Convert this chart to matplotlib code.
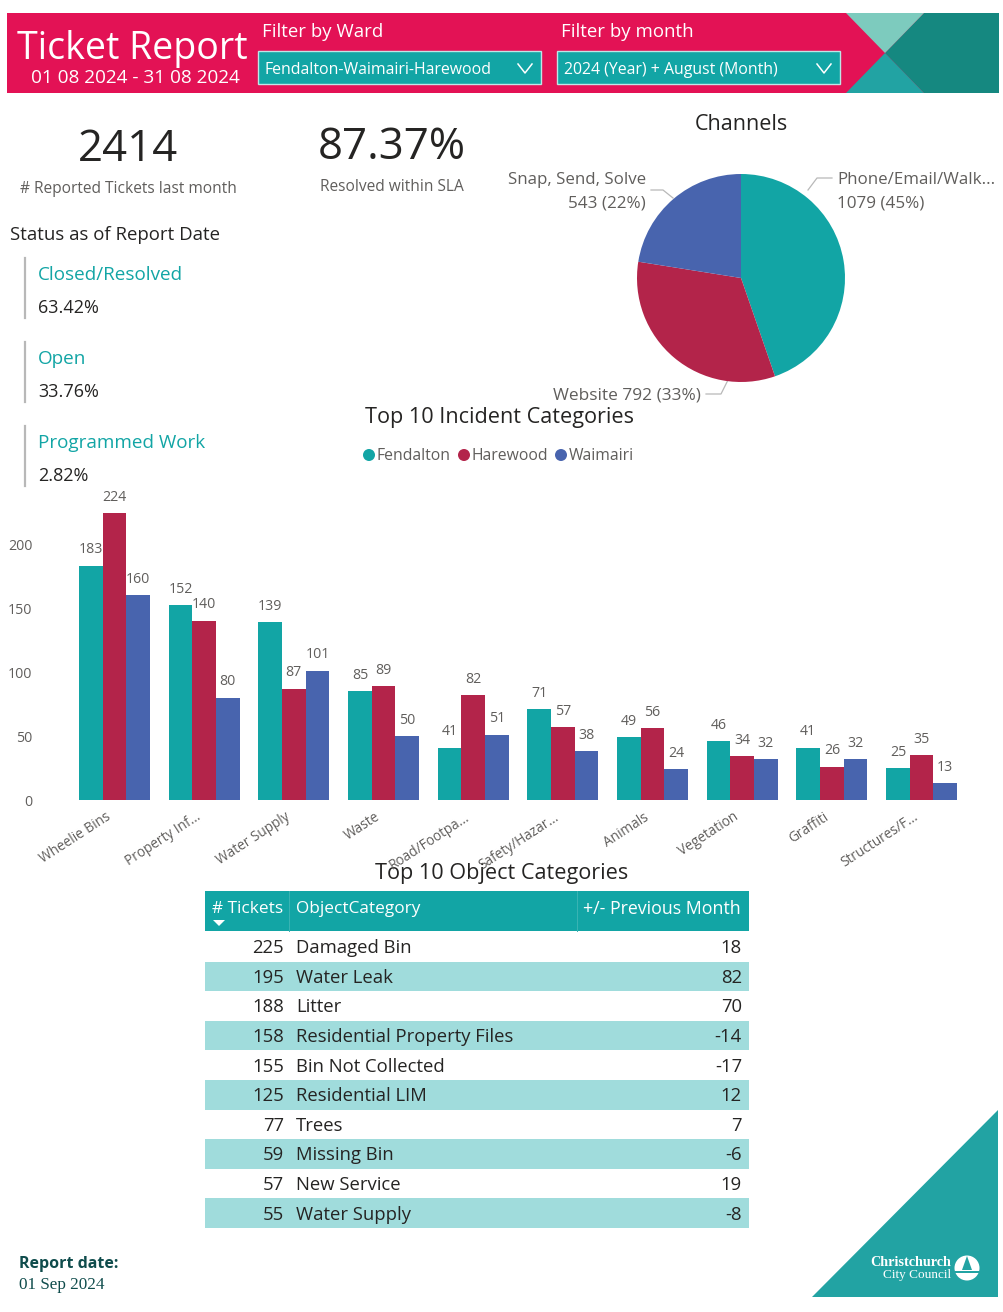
import numpy as np
import matplotlib
matplotlib.use('Agg')
import matplotlib.pyplot as plt
from matplotlib.patches import Polygon, Rectangle, Circle

plt.rcParams['font.family'] = ['Open Sans', 'DejaVu Sans']

# data
categories = ['Wheelie Bins', 'Property Inf...', 'Water Supply', 'Waste', 'Road/Footpa...',
              'Safety/Hazar...', 'Animals', 'Vegetation', 'Graffiti', 'Structures/F...']
fendalton = [183, 152, 139, 85, 41, 71, 49, 46, 41, 25]
harewood = [224, 140, 87, 89, 82, 57, 56, 34, 26, 35]
waimairi = [160, 80, 101, 50, 51, 38, 24, 32, 32, 13]
yticks = [0, 50, 100, 150, 200]

channel_names = ['Phone/Email/Walk...', 'Website', 'Snap, Send, Solve']
channel_values = [1079, 792, 543]
channel_pct = [45, 33, 22]

status_names = ['Closed/Resolved', 'Open', 'Programmed Work']
status_values = ['63.42%', '33.76%', '2.82%']

tickets = [225, 195, 188, 158, 155, 125, 77, 59, 57, 55]
objects = ['Damaged Bin', 'Water Leak', 'Litter', 'Residential Property Files', 'Bin Not Collected',
           'Residential LIM', 'Trees', 'Missing Bin', 'New Service', 'Water Supply']
prev_month = [18, 82, 70, -14, -17, 12, 7, -6, 19, -8]

TEAL = '#12A5A5'
RED = '#B3244A'
BLUE = '#4864AE'
PINK = '#E31255'
GREY = '#605E5C'
DARK = '#252423'
W, H = 1004, 1312

fig = plt.figure(figsize=(W / 100, H / 100), dpi=100)

# overlay axes in pixel coordinates for all the report furniture
bg = fig.add_axes([0, 0, 1, 1])
bg.set_xlim(0, W)
bg.set_ylim(H, 0)
bg.axis('off')

# banner
bg.add_patch(Rectangle((7, 13), 992, 80, color=PINK, lw=0))
bg.add_patch(Polygon([(924, 13), (999, 13), (999, 93), (924, 93), (885, 53)], color='#158880', lw=0))
bg.add_patch(Polygon([(846, 13), (924, 13), (885, 53)], color='#7DCBBE', lw=0))
bg.add_patch(Polygon([(846, 93), (924, 93), (885, 53)], color='#22A3A3', lw=0))
bg.text(132, 49, 'Ticket Report', color='white', fontsize=27, ha='center', va='center')
bg.text(135, 78, '01 08 2024 - 31 08 2024', color='white', fontsize=13.7, ha='center', va='center')
bg.text(262, 32, 'Filter by Ward', color='white', fontsize=13.4, va='center')
bg.text(561, 32, 'Filter by month', color='white', fontsize=13.4, va='center')
for x0, w, label in [(258, 283, 'Fendalton-Waimairi-Harewood'), (557, 283, '2024 (Year) + August (Month)')]:
    bg.add_patch(Rectangle((x0, 51), w, 33, facecolor=TEAL, edgecolor='#BFE6E6', lw=1))
    bg.text(x0 + 7, 70, label, color='white', fontsize=11.4, va='center')
    cx = x0 + w - 16
    bg.plot([cx - 7, cx, cx + 7], [64, 73, 64], color='white', lw=1.1)

# KPI cards
bg.text(128, 150, '2414', color=DARK, fontsize=31.5, ha='center', va='center')
bg.text(128, 189, '# Reported Tickets last month', color=GREY, fontsize=11.2, ha='center', va='center')
bg.text(392, 148, '87.37%', color=DARK, fontsize=31.5, ha='center', va='center')
bg.text(392, 187, 'Resolved within SLA', color=GREY, fontsize=11.2, ha='center', va='center')

# status block
bg.text(10, 235, 'Status as of Report Date', color=DARK, fontsize=13.4, va='center')
for i, (name, val) in enumerate(zip(status_names, status_values)):
    y = 84 * i
    bg.plot([25, 25], [258 + y, 318 + y], color='#B8B8B8', lw=1.6)
    bg.text(38, 275 + y, name, color=TEAL, fontsize=13.6, va='center')
    bg.text(38, 308 + y, val, color=DARK, fontsize=13, va='center')

# pie
pie_ax = fig.add_axes([(741 - 104) / W, 1 - (278 + 104) / H, 208 / W, 208 / H])
pie_ax.pie(channel_values, colors=[TEAL, RED, BLUE], startangle=90, counterclock=False,
           radius=1, wedgeprops={'linewidth': 0})
pie_ax.set_xlim(-1, 1)
pie_ax.set_ylim(-1, 1)
bg.text(741, 125, 'Channels', color=DARK, fontsize=15.5, ha='center', va='center')
bg.text(837, 180, channel_names[0], color=GREY, fontsize=12.2, va='center')
bg.text(837, 204, f'{channel_values[0]} ({channel_pct[0]}%)', color=GREY, fontsize=12.3, va='center')
bg.text(646, 180, channel_names[2], color=GREY, fontsize=12.2, ha='right', va='center')
bg.text(646, 204, f'{channel_values[2]} ({channel_pct[2]}%)', color=GREY, fontsize=12.3, ha='right', va='center')
bg.text(701, 396, f'{channel_names[1]} {channel_values[1]} ({channel_pct[1]}%)', color=GREY, fontsize=12.4,
        ha='right', va='center')
bg.plot([832, 817, 808], [178, 178, 190], color='#B8B8B8', lw=0.9)
bg.plot([651, 663, 673], [190, 190, 198], color='#B8B8B8', lw=0.9)
bg.plot([706, 721, 728], [394, 394, 380], color='#B8B8B8', lw=0.9)

# bar chart
bg.text(500, 418, 'Top 10 Incident Categories', color=DARK, fontsize=15.6, ha='center', va='center')
for lx, name, col in [(369, 'Fendalton', TEAL), (464, 'Harewood', RED), (561, 'Waimairi', BLUE)]:
    bg.add_patch(Circle((lx, 455), 6, color=col, lw=0))
    bg.text(lx + 8, 456, name, color=GREY, fontsize=11.3, va='center')

px_per_group = 89.67
ax_left, ax_right, ax_bottom, ax_top = 70, 1000, 800, 490
ax = fig.add_axes([ax_left / W, 1 - ax_bottom / H, (ax_right - ax_left) / W, (ax_bottom - ax_top) / H])
ax.patch.set_alpha(0)
ax.set_xlim((ax_left - 114.5) / px_per_group, (ax_right - 114.5) / px_per_group)
ax.set_ylim(0, (ax_bottom - ax_top) / 1.28)
x = np.arange(len(categories))
bw = 23.6 / px_per_group
for off, vals, col in [(-bw, fendalton, TEAL), (0, harewood, RED), (bw, waimairi, BLUE)]:
    bars = ax.bar(x + off, vals, bw, color=col)
    ax.bar_label(bars, padding=6, color=GREY, fontsize=10.2)
for s in ax.spines.values():
    s.set_visible(False)
ax.set_yticks(yticks)
ax.tick_params(axis='y', length=0, labelsize=10.2, labelcolor=GREY, pad=27)
ax.set_xticks(x - 0.1, categories, rotation=33, ha='right', rotation_mode='anchor')
ax.tick_params(axis='x', length=0, labelsize=9.8, labelcolor=GREY, pad=7)

# table
bg.text(502, 873, 'Top 10 Object Categories', color=DARK, fontsize=15.6, ha='center', va='center')
bg.add_patch(Rectangle((205, 891), 544, 40, color=TEAL, lw=0))
bg.plot([289, 289], [891, 931], color='#3BB4B4', lw=0.7)
bg.plot([577, 577], [891, 931], color='#3BB4B4', lw=0.7)
bg.text(212, 909, '# Tickets', color='white', fontsize=12.4, va='center')
bg.text(296, 909, 'ObjectCategory', color='white', fontsize=12.4, va='center')
bg.text(741, 909, '+/- Previous Month', color='white', fontsize=12.8, ha='right', va='center')
bg.add_patch(Polygon([(213, 920), (225, 920), (219, 926)], color='white', lw=0))
row_h = 29.6
for i, (t, o, p) in enumerate(zip(tickets, objects, prev_month)):
    y0 = 932 + i * row_h
    if i % 2 == 1:
        bg.add_patch(Rectangle((205, y0), 544, row_h, color='#A0DCDC', lw=0))
    ym = y0 + row_h / 2 + 1.5
    bg.text(284, ym, str(t), color=DARK, fontsize=13.3, ha='right', va='center')
    bg.text(296, ym, o, color=DARK, fontsize=13.3, va='center')
    bg.text(742, ym, str(p), color=DARK, fontsize=13.3, ha='right', va='center')

# footer
bg.text(19, 1264, 'Report date:', color='#0F4C4C', fontsize=11.5, fontweight='bold', va='center')
bg.text(19, 1285, '01 Sep 2024', color='#0F4C4C', fontsize=12.3, family='Liberation Serif', va='center')
bg.add_patch(Polygon([(812, 1297), (998, 1110), (998, 1297)], color='#22A3A3', lw=0))
bg.text(951, 1263, 'Christchurch', color='white', fontsize=10.2, family='Liberation Serif', fontweight='bold',
        ha='right', va='center')
bg.text(951, 1275, 'City Council', color='white', fontsize=9.5, family='Liberation Serif', ha='right', va='center')
bg.add_patch(Circle((967, 1268), 12.5, color='white', lw=0))
bg.add_patch(Polygon([(955, 1271), (979, 1271), (979, 1272.5), (955, 1272.5)], color='#22A3A3', lw=0))
bg.add_patch(Polygon([(967, 1256), (972, 1270), (962, 1270)], color='#22A3A3', lw=0))

fig.savefig('out.png', dpi=100)
